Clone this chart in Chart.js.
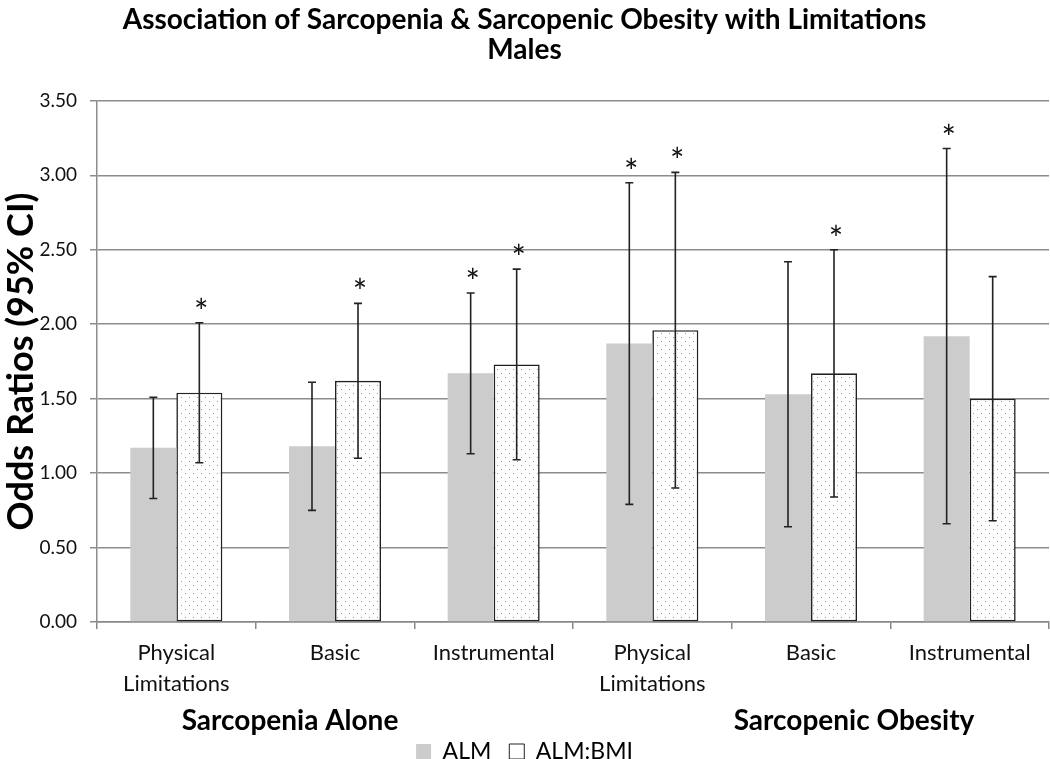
<!DOCTYPE html>
<html>
<head>
<meta charset="utf-8">
<script src="https://cdn.jsdelivr.net/npm/chart.js@4.4.1/dist/chart.umd.min.js"></script>
<style>
  html, body { margin: 0; padding: 0; background: #fff; }
  #wrap { width: 1050px; height: 759px; }
</style>
</head>
<body>
<div id="wrap"><canvas id="oddsChart"></canvas></div>
<script>
// Data
const categories = [['Physical', 'Limitations'], 'Basic', 'Instrumental', ['Physical', 'Limitations'], 'Basic', 'Instrumental'];
const groupLabels = ['Sarcopenia Alone', 'Sarcopenic Obesity'];
const yTicks = [0, 0.5, 1, 1.5, 2, 2.5, 3, 3.5];

const almValues = [1.17, 1.18, 1.67, 1.87, 1.53, 1.92];
const almLower = [0.83, 0.75, 1.13, 0.79, 0.64, 0.66];
const almUpper = [1.51, 1.61, 2.21, 2.95, 2.42, 3.18];
const almSignificant = [false, false, true, true, false, true];

const bmiValues = [1.54, 1.62, 1.73, 1.96, 1.67, 1.50];
const bmiLower = [1.07, 1.10, 1.09, 0.90, 0.84, 0.68];
const bmiUpper = [2.01, 2.14, 2.37, 3.02, 2.50, 2.32];
const bmiSignificant = [true, true, true, true, true, false];

const FONT = 'Lato, "Open Sans", sans-serif';

// dotted fill for ALM:BMI bars
function dotPattern() {
  const c = document.createElement('canvas');
  c.width = 8; c.height = 8;
  const g = c.getContext('2d');
  g.fillStyle = '#fff';
  g.fillRect(0, 0, 8, 8);
  g.fillStyle = '#9a9a9a';
  g.fillRect(1, 1, 1, 1);
  g.fillRect(5, 5, 1, 1);
  return g.createPattern(c, 'repeat');
}

const errorBars = {
  id: 'errorBars',
  afterDatasetsDraw(chart) {
    const ctx = chart.ctx;
    const y = chart.scales.y;
    const sets = [
      { lo: almLower, hi: almUpper, sig: almSignificant },
      { lo: bmiLower, hi: bmiUpper, sig: bmiSignificant }
    ];
    ctx.save();
    sets.forEach((s, di) => {
      chart.getDatasetMeta(di).data.forEach((bar, i) => {
        const x = bar.x;
        const top = y.getPixelForValue(s.hi[i]);
        const bot = y.getPixelForValue(s.lo[i]);
        ctx.strokeStyle = '#222';
        ctx.lineWidth = 1.6;
        ctx.beginPath();
        ctx.moveTo(x, top); ctx.lineTo(x, bot);
        ctx.moveTo(x - 4, top); ctx.lineTo(x + 4, top);
        ctx.moveTo(x - 4, bot); ctx.lineTo(x + 4, bot);
        ctx.stroke();
        if (s.sig[i]) {
          ctx.fillStyle = '#111';
          ctx.font = '34px ' + FONT;
          ctx.textAlign = 'center';
          ctx.textBaseline = 'middle';
          ctx.fillText('*', x + 2, top - 10);
        }
      });
    });
    // group labels under the category labels
    const xs = chart.scales.x;
    ctx.fillStyle = '#000';
    ctx.font = 'bold 28px ' + FONT;
    ctx.textAlign = 'center';
    ctx.textBaseline = 'middle';
    ctx.fillText(groupLabels[0], xs.getPixelForValue(1) - 45, 721);
    ctx.fillText(groupLabels[1], xs.getPixelForValue(4) + 43, 721);
    ctx.restore();
  }
};

new Chart(document.getElementById('oddsChart'), {
  type: 'bar',
  data: {
    labels: categories,
    datasets: [
      {
        label: 'ALM',
        data: almValues,
        backgroundColor: '#cccccc',
        borderWidth: 0
      },
      {
        label: 'ALM:BMI',
        data: bmiValues,
        backgroundColor: dotPattern(),
        borderColor: '#222',
        borderWidth: 1.6,
        borderSkipped: false
      }
    ]
  },
  options: {
    responsive: true,
    maintainAspectRatio: false,
    animation: false,
    datasets: { bar: { categoryPercentage: 0.58, barPercentage: 1 } },
    layout: { padding: { top: 5, right: 1, left: 0, bottom: -14 } },
    plugins: {
      title: {
        display: true,
        text: ['Association of Sarcopenia & Sarcopenic Obesity with Limitations', 'Males'],
        color: '#000',
        font: { family: FONT, size: 28, weight: 'bold', lineHeight: 1.07 },
        padding: { top: 0, bottom: 36 }
      },
      legend: {
        position: 'bottom',
        labels: {
          color: '#000',
          font: { family: FONT, size: 23 },
          boxWidth: 15,
          boxHeight: 15,
          padding: 18,
          generateLabels: () => [
            { text: 'ALM', fillStyle: '#cccccc', strokeStyle: '#cccccc', lineWidth: 0, datasetIndex: 0 },
            { text: 'ALM:BMI', fillStyle: '#fff', strokeStyle: '#222', lineWidth: 1, datasetIndex: 1 }
          ]
        }
      },
      tooltip: { enabled: false }
    },
    scales: {
      x: {
        grid: { drawOnChartArea: false, color: '#888', tickLength: 7, lineWidth: 1.5 },
        border: { color: '#888', width: 1.5 },
        ticks: {
          color: '#111',
          font: { family: FONT, size: 22, lineHeight: 1.41 },
          padding: 8,
          maxRotation: 0,
          autoSkip: false
        },
        afterFit: (s) => { s.height = 100; }
      },
      y: {
        min: 0,
        max: 3.5,
        afterBuildTicks: (s) => { s.ticks = yTicks.map(v => ({ value: v })); },
        grid: { color: '#8c8c8c', lineWidth: 1.5, tickLength: 7 },
        border: { color: '#8c8c8c', width: 1.5 },
        ticks: {
          color: '#111',
          font: { family: FONT, size: 19 },
          padding: 13,
          callback: (v) => Number(v).toFixed(2)
        },
        title: {
          display: true,
          text: 'Odds Ratios (95% CI)',
          color: '#000',
          font: { family: FONT, size: 36, weight: 'bold' },
          padding: { top: 0, bottom: 0 }
        },
        afterFit: (s) => { s.width = 97; }
      }
    }
  },
  plugins: [errorBars]
});
</script>
</body>
</html>
